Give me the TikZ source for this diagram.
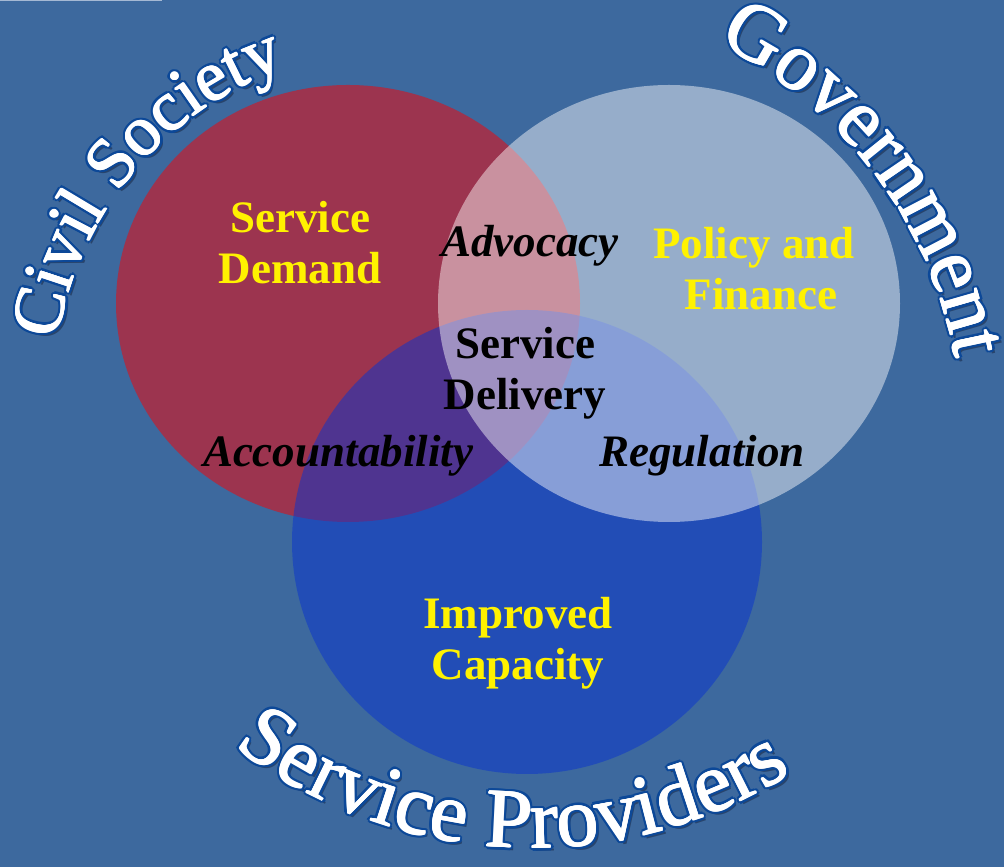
\documentclass[tikz,border=0pt]{standalone}
\usepackage{fontspec}
\setmainfont{Liberation Serif}
\usetikzlibrary{decorations.text}

\definecolor{backdrop}{RGB}{61,105,158}
\definecolor{civil}{RGB}{156,52,79}
\definecolor{provider}{RGB}{10,53,205}
\definecolor{rim}{RGB}{12,72,152}
\definecolor{shade}{RGB}{40,68,108}
\definecolor{topline}{RGB}{165,185,212}

\tikzset{arcword/.style={decorate,decoration={text along path,text align=center,text color=#1}}}

% #1 centre, #2 radius, #3/#4 start and end angle, #5 font size, #6 words
\newcommand\arclabel[6]{%
  \path[arcword=shade,shift={(3pt,-3.5pt)},decoration={text={|\fontsize{#5}{#5}\selectfont|#6}}]
    (#1) ++(#3:#2) arc[start angle=#3,end angle=#4,radius=#2];
  \foreach \a in {0,30,...,330}
    \path[arcword=rim,shift={(\a:3pt)},decoration={text={|\fontsize{#5}{#5}\selectfont|#6}}]
      (#1) ++(#3:#2) arc[start angle=#3,end angle=#4,radius=#2];
  \foreach \a in {0,60,...,300}
    \path[arcword=white,shift={(\a:0.6pt)},decoration={text={|\fontsize{#5}{#5}\selectfont|#6}}]
      (#1) ++(#3:#2) arc[start angle=#3,end angle=#4,radius=#2];
}

\begin{document}
\begin{tikzpicture}[x=1pt,y=1pt,
 lbl/.style={font=\bfseries\fontsize{45}{51}\selectfont,align=center,inner sep=0pt},
 goal/.style={lbl,text=yellow},
 link/.style={lbl,font=\bfseries\itshape\fontsize{45}{51}\selectfont}]
\fill[backdrop] (0,0) rectangle (1004,867);
\fill[topline] (0,865.5) rectangle (162,867);
\useasboundingbox (0,0) rectangle (1004,867);
% the three sectors
\fill[civil] (348,563.5) ellipse[x radius=232pt,y radius=218.5pt];
\fill[provider,fill opacity=.52] (527,325) ellipse[x radius=235pt,y radius=232pt];
\fill[white,fill opacity=.46] (669,563.5) ellipse[x radius=231pt,y radius=218.5pt];
\node[goal] (demand) at (300,624) {Service\\Demand};
\node[goal] (policy) at (754,598) {Policy and\\\hspace{14pt}Finance};
\node[goal] (capacity) at (518,224) {Improved\\Capacity};
\node[lbl] (delivery) at (525,494) {Service\\Delivery};
\node[link,anchor=base] (advocacy) at (530,610) {Advocacy};
\node[link,anchor=base] (account) at (338,400) {Accountability};
\node[link,anchor=base] (regulation) at (702,400) {Regulation};
% titles bent round the circles
\arclabel{396,475}{342pt}{190}{90}{71}{Civil Society}
\arclabel{521,428}{442pt}{87}{-13}{82}{Government}
\arclabel{532,507}{488pt}{217.3}{317.3}{84}{Service Providers}
\end{tikzpicture}
\end{document}
